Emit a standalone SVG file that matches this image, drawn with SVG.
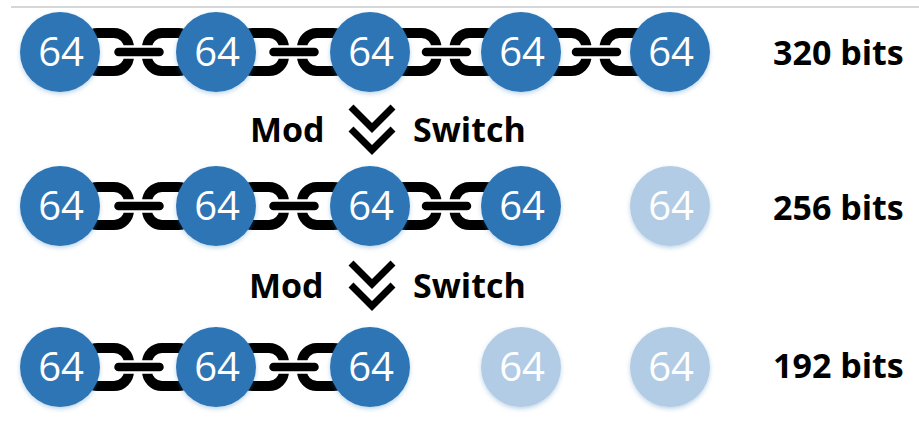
<svg xmlns="http://www.w3.org/2000/svg" xmlns:xlink="http://www.w3.org/1999/xlink" width="919" height="421" viewBox="0 0 919 421">
  <style>
    .slot { fill: #2E75B6; filter: url(#soft); }
    .slot.dropped { fill: #B3CCE5; }
    .num { font-family: "Open Sans", "Liberation Sans", sans-serif; font-size: 40px; fill: #FFFFFF; text-anchor: middle; }
    .label { font-family: "Open Sans", "Liberation Sans", sans-serif; font-size: 34px; font-weight: bold; fill: #000000; }
    .link { fill: none; stroke: #000000; stroke-width: 10; }
    .bar { fill: #000000; stroke: #FFFFFF; stroke-width: 2.5; }
    .chev { fill: none; stroke: #000000; stroke-width: 7; stroke-linejoin: miter; stroke-miterlimit: 10; }
  </style>
  <defs>
    <filter id="soft" x="-30%" y="-30%" width="160%" height="160%">
      <feDropShadow dx="0" dy="2" stdDeviation="2" flood-color="#2E75B6" flood-opacity="0.3"/>
    </filter>
    <!-- one chain joint, centred on (0,0) between two slots -->
    <g id="chain">
      <rect class="link" x="-55" y="-19" width="46" height="38" rx="15"/>
      <rect class="link" x="9" y="-19" width="46" height="38" rx="15"/>
      <rect class="bar" x="-25" y="-5.5" width="52" height="11" rx="5.5"/>
    </g>
    <!-- double chevron pointing down -->
    <g id="chevrons">
      <polyline class="chev" points="351,107 372,128 393,107"/>
      <polyline class="chev" points="351,129 372,150 393,129"/>
    </g>
  </defs>

  <!-- rule along the top -->
  <line x1="11" y1="7" x2="919" y2="7" stroke="#C8C8C8" stroke-width="1.5"/>

  <!-- chain joints between neighbouring slots -->
  <g id="connectors">
    <use xlink:href="#chain" x="138" y="52"/>
    <use xlink:href="#chain" x="293" y="52"/>
    <use xlink:href="#chain" x="445.5" y="52"/>
    <use xlink:href="#chain" x="595.5" y="52"/>

    <use xlink:href="#chain" x="138" y="206"/>
    <use xlink:href="#chain" x="293" y="206"/>
    <use xlink:href="#chain" x="445.5" y="206"/>

    <use xlink:href="#chain" x="138" y="367"/>
    <use xlink:href="#chain" x="293" y="367"/>
  </g>

  <!-- row 1: five 64-bit slots -->
  <g id="r1c1"><circle class="slot" cx="60" cy="52" r="40"/><text class="num" x="61" y="66">64</text></g>
  <g id="r1c2"><circle class="slot" cx="216" cy="52" r="40"/><text class="num" x="217" y="66">64</text></g>
  <g id="r1c3"><circle class="slot" cx="370" cy="52" r="40"/><text class="num" x="371" y="66">64</text></g>
  <g id="r1c4"><circle class="slot" cx="521" cy="52" r="40"/><text class="num" x="522" y="66">64</text></g>
  <g id="r1c5"><circle class="slot" cx="670" cy="52" r="40"/><text class="num" x="671" y="66">64</text></g>
  <g id="r1label"><text class="label" x="773" y="65">320 bits</text></g>

  <!-- first switch -->
  <g id="switch1">
    <text class="label" x="250" y="142">Mod</text>
    <use xlink:href="#chevrons"/>
    <text class="label" x="413" y="142">Switch</text>
  </g>

  <!-- row 2: four slots kept, one dropped -->
  <g id="r2c1"><circle class="slot" cx="60" cy="206" r="40"/><text class="num" x="61" y="220">64</text></g>
  <g id="r2c2"><circle class="slot" cx="216" cy="206" r="40"/><text class="num" x="217" y="220">64</text></g>
  <g id="r2c3"><circle class="slot" cx="370" cy="206" r="40"/><text class="num" x="371" y="220">64</text></g>
  <g id="r2c4"><circle class="slot" cx="521" cy="206" r="40"/><text class="num" x="522" y="220">64</text></g>
  <g id="r2c5"><circle class="slot dropped" cx="670" cy="206" r="40"/><text class="num" x="671" y="220">64</text></g>
  <g id="r2label"><text class="label" x="773" y="220">256 bits</text></g>

  <!-- second switch -->
  <g id="switch2">
    <text class="label" x="249" y="298">Mod</text>
    <use xlink:href="#chevrons" y="156"/>
    <text class="label" x="413" y="298">Switch</text>
  </g>

  <!-- row 3: three slots kept, two dropped -->
  <g id="r3c1"><circle class="slot" cx="60" cy="367" r="40"/><text class="num" x="61" y="381">64</text></g>
  <g id="r3c2"><circle class="slot" cx="216" cy="367" r="40"/><text class="num" x="217" y="381">64</text></g>
  <g id="r3c3"><circle class="slot" cx="370" cy="367" r="40"/><text class="num" x="371" y="381">64</text></g>
  <g id="r3c4"><circle class="slot dropped" cx="521" cy="367" r="40"/><text class="num" x="522" y="381">64</text></g>
  <g id="r3c5"><circle class="slot dropped" cx="670" cy="367" r="40"/><text class="num" x="671" y="381">64</text></g>
  <g id="r3label"><text class="label" x="773" y="378">192 bits</text></g>
</svg>
